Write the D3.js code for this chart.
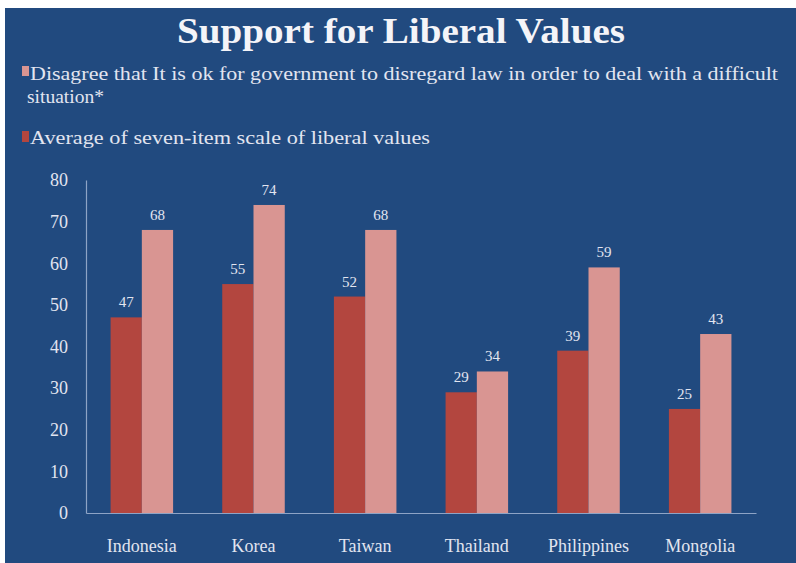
<!DOCTYPE html>
<html>
<head>
<meta charset="utf-8">
<script src="https://cdn.jsdelivr.net/npm/d3@7"></script>
<style>
  html, body { margin: 0; padding: 0; background: #fff; }
  svg { display: block; }
  svg text { font-family: "Liberation Serif", "Times New Roman", serif; }
</style>
</head>
<body>
<div id="chart"></div>
<script>
// data
const countries = ['Indonesia', 'Korea', 'Taiwan', 'Thailand', 'Philippines', 'Mongolia'];
const avgLiberal = [47, 55, 52, 29, 39, 25];
const disagreeLaw = [68, 74, 68, 34, 59, 43];
const yTicks = [0, 10, 20, 30, 40, 50, 60, 70, 80];
const seriesNames = [
  'Disagree that It is ok for government to disregard law in order to deal with a difficult',
  'Average of seven-item scale of liberal values'
];

const width = 796, height = 563;
const bg = '#214a7f';
const darkRed = '#b3463f';
const lightRed = '#d99592';
const textCol = '#e2e5f0';

const svg = d3.select('#chart').append('svg').attr('width', width).attr('height', height);

// blue slide panel (thin white edge top/left like the screenshot)
svg.append('rect').attr('x', 5).attr('y', 8).attr('width', width - 5).attr('height', height - 8).attr('fill', bg);

// title
svg.append('text')
  .attr('x', 401).attr('y', 43)
  .attr('text-anchor', 'middle')
  .attr('font-size', 35).attr('font-weight', 'bold')
  .attr('fill', '#f4f4f8')
  .attr('textLength', 448).attr('lengthAdjust', 'spacingAndGlyphs')
  .text('Support for Liberal Values');

// legend
const legend = svg.append('g').attr('font-size', 19).attr('fill', textCol);
legend.append('rect').attr('x', 22).attr('y', 66).attr('width', 7).attr('height', 10).attr('fill', lightRed);
legend.append('text').attr('x', 30).attr('y', 80)
  .attr('textLength', 748).attr('lengthAdjust', 'spacingAndGlyphs')
  .text(seriesNames[0]);
legend.append('text').attr('x', 27).attr('y', 103)
  .attr('textLength', 77).attr('lengthAdjust', 'spacingAndGlyphs')
  .text('situation*');
legend.append('rect').attr('x', 22).attr('y', 131).attr('width', 7).attr('height', 11).attr('fill', darkRed);
legend.append('text').attr('x', 30).attr('y', 144)
  .attr('textLength', 400).attr('lengthAdjust', 'spacingAndGlyphs')
  .text(seriesNames[1]);

// scales
const x0 = d3.scaleBand().domain(countries).range([86, 756]).paddingInner(0.44).paddingOuter(0.22);
const x1 = d3.scaleBand().domain(['avg', 'dis']).range([0, x0.bandwidth()]);
const y = d3.scaleLinear().domain([0, 80]).range([513, 180]);

// axes
const yAxis = svg.append('g')
  .attr('transform', 'translate(86,0)')
  .call(d3.axisLeft(y).tickValues(yTicks).tickSize(0).tickPadding(18))
  .attr('font-family', null);
yAxis.select('.domain').attr('stroke', '#8ea4c6').attr('stroke-width', 1.2);
yAxis.selectAll('text').attr('font-size', 18).attr('fill', textCol);

const xAxis = svg.append('g')
  .attr('transform', 'translate(0,513)')
  .call(d3.axisBottom(x0).tickSize(0).tickPadding(26))
  .attr('font-family', null);
xAxis.select('.domain').attr('stroke', '#8ea4c6').attr('stroke-width', 1.2);
xAxis.selectAll('text').attr('font-size', 18).attr('fill', textCol);

// bars
const rows = countries.map((c, i) => ({ country: c, avg: avgLiberal[i], dis: disagreeLaw[i] }));
const groups = svg.append('g').selectAll('g')
  .data(rows)
  .join('g')
  .attr('transform', (d) => `translate(${x0(d.country)},0)`);

const cells = groups.selectAll('g')
  .data((d) => [{ key: 'avg', v: d.avg }, { key: 'dis', v: d.dis }])
  .join('g');

cells.append('rect')
  .attr('x', (d) => x1(d.key))
  .attr('width', x1.bandwidth())
  .attr('y', (d) => y(d.v))
  .attr('height', (d) => y(0) - y(d.v))
  .attr('fill', (d) => (d.key === 'avg' ? darkRed : lightRed));

cells.append('text')
  .attr('x', (d) => x1(d.key) + x1.bandwidth() / 2)
  .attr('y', (d) => y(d.v) - 10)
  .attr('text-anchor', 'middle')
  .attr('font-size', 15)
  .attr('fill', textCol)
  .text((d) => d.v);
</script>
</body>
</html>
